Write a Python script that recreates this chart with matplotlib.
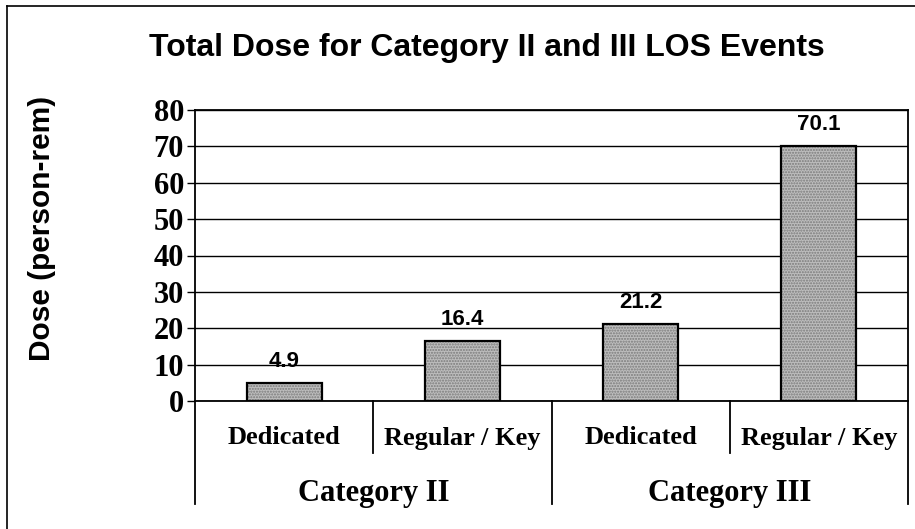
import matplotlib
matplotlib.use("Agg")
import matplotlib.pyplot as plt
from matplotlib.lines import Line2D

# dose per subgroup, person-rem
groups = ["Category II", "Category III"]
subgroups = ["Dedicated", "Regular / Key", "Dedicated", "Regular / Key"]
doses = [4.9, 16.4, 21.2, 70.1]
y_ticks = [0, 10, 20, 30, 40, 50, 60, 70, 80]

W, H = 915, 529
fig = plt.figure(figsize=(W / 100, H / 100), dpi=100)

# plot area in pixel coords
left, right, top, bottom = 195, 908, 110, 401
ax = fig.add_axes([left / W, 1 - bottom / H, (right - left) / W, (bottom - top) / H])

serif = "Liberation Serif"
sans = "Liberation Sans"

x = list(range(len(doses)))
# grainy gray fill, then a clean black outline
ax.bar(x, doses, width=0.42, color="#bdbdbd", edgecolor="#7a7a7a",
       hatch="......", linewidth=0, zorder=3)
ax.bar(x, doses, width=0.42, facecolor="none", edgecolor="black",
       linewidth=1.6, zorder=4)

for xi, d in zip(x, doses):
    ax.annotate(f"{d}", (xi, d), xytext=(0, 8), textcoords="offset points",
                ha="center", va="bottom", fontsize=16, fontweight="bold",
                family=sans, zorder=5)

ax.set_xlim(-0.5, len(doses) - 0.5)
ax.set_ylim(0, 80)
ax.set_yticks(y_ticks)
ax.set_yticklabels([str(t) for t in y_ticks], family=serif, fontweight="bold",
                   fontsize=22)
ax.tick_params(axis="y", length=6, width=1, pad=2)
ax.set_xticks([])
ax.yaxis.grid(True, color="black", linewidth=1)
ax.set_axisbelow(True)
for s in ax.spines.values():
    s.set_linewidth(1.3)

# category axis: subgroup labels, group labels and divider lines
tr = ax.get_xaxis_transform()
short_y = -52 / (bottom - top)
long_y = -103 / (bottom - top)
for xi, name in zip(x, subgroups):
    ax.text(xi, -37 / (bottom - top), name, transform=tr, ha="center",
            va="center", family=serif, fontweight="bold", fontsize=19)
for gi, name in enumerate(groups):
    ax.text(gi * 2 + 0.5, -92 / (bottom - top), name, transform=tr,
            ha="center", va="center", family=serif, fontweight="bold",
            fontsize=22)
for xb in [-0.5, 1.5, 3.5]:
    ax.add_line(Line2D([xb, xb], [0, long_y], transform=tr, color="black",
                       linewidth=1.3, clip_on=False))
for xb in [0.5, 2.5]:
    ax.add_line(Line2D([xb, xb], [0, short_y], transform=tr, color="black",
                       linewidth=1.3, clip_on=False))

fig.text(487 / W, 1 - 48 / H, "Total Dose for Category II and III LOS Events",
         ha="center", va="center", family=sans, fontweight="bold", fontsize=23)
fig.text(42 / W, 1 - 228 / H, "Dose (person-rem)", rotation=90, ha="center",
         va="center", family=sans, fontweight="bold", fontsize=21.5)

# outer frame
fig.add_artist(Line2D([7 / W, 7 / W], [0, 1 - 6 / H], transform=fig.transFigure,
                      color="black", linewidth=1.2))
fig.add_artist(Line2D([7 / W, 1], [1 - 6 / H, 1 - 6 / H], transform=fig.transFigure,
                      color="black", linewidth=1.2))

fig.savefig("out.png", dpi=100)
